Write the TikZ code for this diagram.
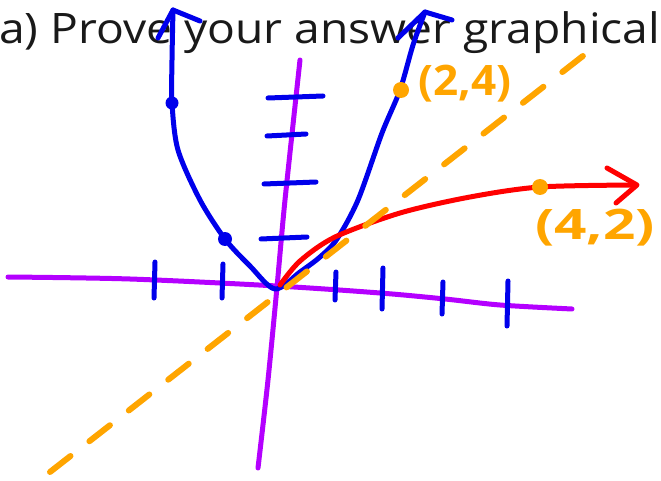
\documentclass[tikz,border=0pt]{standalone}
\usepackage{fontspec}
\setmainfont{Open Sans}
\begin{document}
\begin{tikzpicture}[x=1pt,y=-1pt,
  pen/.style={line width=5pt,line cap=round,line join=round},
  axis/.style={pen,draw=axpurple},
  bluepen/.style={pen,draw=penblue},
  redpen/.style={pen,draw=penred},
  orangepen/.style={line width=6pt,line cap=round,draw=penorange},
  lbl/.style={text=penorange,font=\fontsize{42}{42}\selectfont\bfseries,inner sep=0pt}]
\definecolor{axpurple}{RGB}{180,0,255}
\definecolor{penblue}{RGB}{0,0,235}
\definecolor{penred}{RGB}{255,0,0}
\definecolor{penorange}{RGB}{255,165,0}
\definecolor{ink}{RGB}{25,25,25}
\useasboundingbox (0,0) rectangle (661,481);
\fill[white] (0,0) rectangle (661,481);
% title
\node[anchor=base west,inner sep=0pt,xscale=1.1,text=ink,font=\fontsize{42}{42}\selectfont] (title) at (-1,44) {a) Prove your answer graphical};
% axes
\draw[axis] plot[smooth] coordinates {(8,277) (130,279) (277,286) (380,293) (445,299) (500,305) (572,309)};
\draw[axis] plot[smooth] coordinates {(300,60) (285,200) (277,287) (268,380) (258,468)};
% ticks
\foreach \x/\ya/\yb in {155/262/298, 223/264/298, 336/272/300, 383/268/309, 443/282/314, 508/281/326}
  \draw[bluepen] (\x,\ya) -- (\x-1,\yb);
\foreach \y/\xa/\xb in {97/268/323, 135/267/306, 183/264/316, 238/261/307}
  \draw[bluepen] (\xa,\y+1) -- (\xb,\y-1);
% parabola
\draw[bluepen] plot[smooth] coordinates {(173,10) (172,60) (172,103) (178,150) (200,200) (225,239) (250,266) (275,289) (300,272) (320,257) (337,239) (358,200) (382,133) (400,90) (413,45) (425,12)};
\draw[bluepen] (158,38) -- (173,10) -- (200,21);
\draw[bluepen] (398,38) -- (425,12) -- (452,20);
\fill[penblue] (172,103) circle (6.5);
\fill[penblue] (225,239) circle (7);
% red curve
\draw[redpen] plot[smooth] coordinates {(280,285) (300,261) (335,237) (400,213) (470,197) (540,187) (636,185)};
\draw[redpen] (607,168) -- (637,185) -- (616,203);
% dashed y=x
\draw[orangepen,dash pattern=on 26pt off 24pt] (50,472) -- (588,52);
% points
\fill[penorange] (401,90) circle (8);
\fill[penorange] (540,187) circle (8);
\node[lbl,anchor=west,xscale=1.05] (p24) at (418,84) {(2,4)};
\node[lbl,anchor=west,xscale=1.35] (p42) at (535,228) {(4,2)};
\end{tikzpicture}
\end{document}
